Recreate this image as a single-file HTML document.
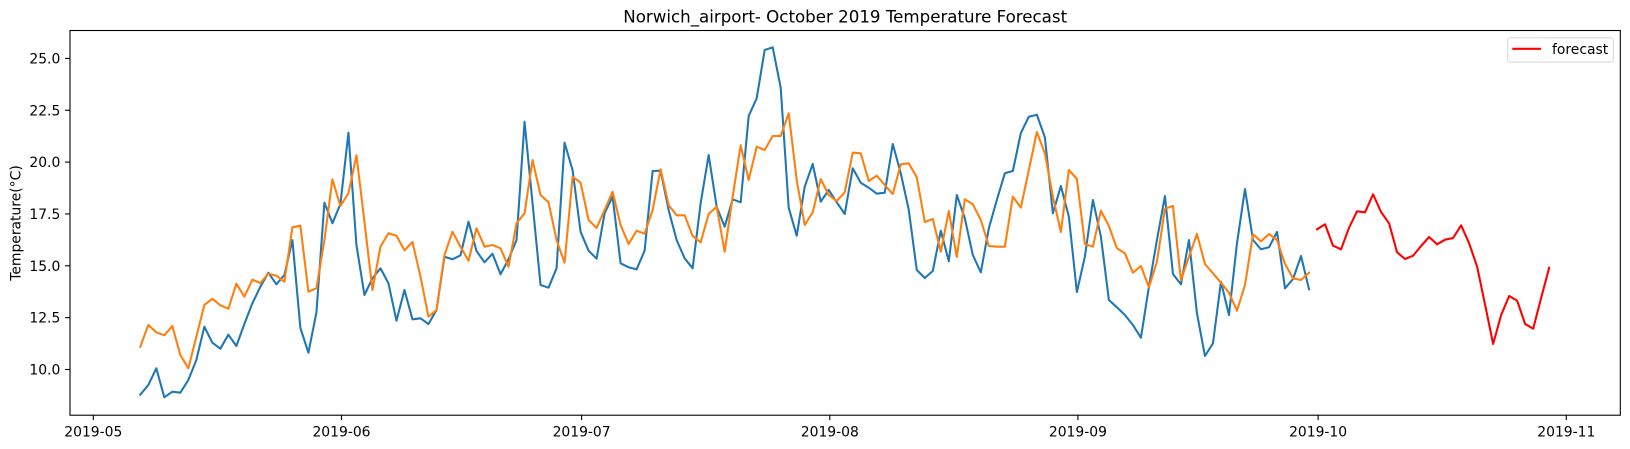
<!DOCTYPE html>
<html>
<head>
<meta charset="utf-8">
<style>
html,body{margin:0;padding:0;background:#fff;}
svg{display:block;}
text{font-family:"DejaVu Sans","Liberation Sans",sans-serif;fill:#000;}
</style>
</head>
<body>
<svg width="1630" height="449" viewBox="0 0 1630 449" xmlns="http://www.w3.org/2000/svg">
<defs>
<clipPath id="ax"><rect x="70" y="30.5" width="1550.3" height="384.7"/></clipPath>
</defs>
<rect x="0" y="0" width="1630" height="449" fill="#fff"/>

<!-- title -->
<text x="845.2" y="22.5" font-size="16.67" text-anchor="middle">Norwich_airport- October 2019 Temperature Forecast</text>

<!-- data -->
<g clip-path="url(#ax)">
<g transform="translate(140.3,0) scale(8.005,1)" fill="none" stroke-linejoin="round" stroke-linecap="square">
<polyline vector-effect="non-scaling-stroke" stroke="#1f77b4" stroke-width="2.08" points="0,394.7 1,385 2,368.3 3,397.3 4,391.7 5,392.7 6,380 7,360 8,326.7 9,342.7 10,348.7 11,334.7 12,346 13,324 14,303.3 15,286.7 16,272.7 17,284.3 18,275 19,240 20,328 21,352.7 22,312.7 23,202.7 24,223.3 25,204 26,132.7 27,245 28,295 29,278.3 30,268.3 31,283.3 32,320.7 33,290 34,319.3 35,318.3 36,324 37,310 38,256.7 39,259.3 40,255.3 41,221.7 42,251 43,262.3 44,253.7 45,274.3 46,259.3 47,240 48,121.7 49,203.3 50,285 51,287.7 52,268.3 53,142.7 54,170 55,231.7 56,250.7 57,258.7 58,213.3 59,196.7 60,263.3 61,267.3 62,269.3 63,250.7 64,171 65,170.7 66,210 67,240 68,258.3 69,268.3 70,203.3 71,155 72,206.7 73,226.7 74,199.3 75,202.3 76,116 77,98.3 78,50 79,47.3 80,87.7 81,207.7 82,235.7 83,186.7 84,164 85,201.7 86,190 87,202.3 88,214 89,168.3 90,182.7 91,187.7 92,193.7 93,192.7 94,144 95,173.3 96,210 97,270 98,278 99,271 100,230.7 101,261.3 102,195 103,218.3 104,255 105,272.3 106,228.3 107,200 108,173.3 109,171 110,133 111,116.7 112,114.7 113,137.3 114,213.3 115,186 116,216.7 117,292 118,256.7 119,200 120,236.7 121,300 122,307.3 123,315 124,325 125,337.7 126,286.7 127,240 128,196 129,274 130,284.3 131,240 132,313.3 133,356 134,343.3 135,281.7 136,315 137,243.3 138,189 139,240 140,249.3 141,247.3 142,232 143,288.3 144,279 145,256 146,289.3"/>
<polyline vector-effect="non-scaling-stroke" stroke="#ff7f0e" stroke-width="2.08" points="0,346.7 1,325 2,332.3 3,335.3 4,326 5,355 6,368.3 7,336.7 8,305 9,298.7 10,305.3 11,308.7 12,283.7 13,296.7 14,279.7 15,283 16,273.7 17,275.7 18,281.7 19,227.3 20,225.7 21,291.7 22,288.3 23,240 24,179.3 25,206 26,193.3 27,155.3 28,221.7 29,290 30,246.7 31,233.3 32,235.7 33,250.3 34,242 35,276.7 36,316.7 37,310 38,255 39,231.7 40,246.7 41,260.7 42,228.3 43,246.7 44,245 45,248.3 46,266.7 47,223.3 48,213.3 49,160 50,195 51,202.3 52,240 53,262.7 54,176.7 55,182.7 56,220 57,228 58,210 59,191.7 60,225 61,244 62,230.7 63,233.7 64,210 65,169.3 66,205 67,215.3 68,215.3 69,236 70,242.3 71,214 72,206.7 73,251.7 74,196.7 75,145.3 76,180 77,146.7 78,150 79,136 80,136 81,113.3 82,180 83,225 84,212.3 85,179 86,195 87,201 88,192.3 89,152.7 90,153.3 91,181 92,175.7 93,185 94,194 95,164.3 96,163.3 97,177.3 98,222 99,219 100,251.7 101,211 102,257 103,199.3 104,204.3 105,220 106,246 107,246.7 108,246.7 109,196.7 110,207.5 111,170 112,132 113,153.3 114,196.7 115,232 116,170 117,179 118,244 119,246.7 120,210.7 121,226 122,248.3 123,253.3 124,272.7 125,266 126,287.3 127,261.7 128,208.7 129,206 130,280 131,256.7 132,234 133,264 134,273.3 135,282.7 136,292.7 137,310.7 138,285 139,234.3 140,241.3 141,234 142,240 143,264 144,278.3 145,280 146,272.7"/>
<polyline vector-effect="non-scaling-stroke" stroke="#ff0000" stroke-width="2.08" points="147,229.3 148,224.3 149,245.7 150,249.3 151,227.7 152,211.3 153,212.3 154,194.3 155,212 156,223.3 157,252.3 158,259 159,255.7 160,246 161,237 162,244.3 163,239.7 164,238 165,225.3 166,243.3 167,266.7 168,305 169,344 170,315 171,296 172,300.7 173,324 174,328.7 175,297.7 176,267.7"/>
</g>
</g>

<!-- axes frame -->
<rect x="70" y="30.5" width="1550.3" height="384.7" fill="none" stroke="#000" stroke-width="1.1"/>

<!-- y ticks -->
<g stroke="#000" stroke-width="1.1">
<line x1="65.1" y1="369.5" x2="70" y2="369.5"/>
<line x1="65.1" y1="317.65" x2="70" y2="317.65"/>
<line x1="65.1" y1="265.8" x2="70" y2="265.8"/>
<line x1="65.1" y1="213.95" x2="70" y2="213.95"/>
<line x1="65.1" y1="162.1" x2="70" y2="162.1"/>
<line x1="65.1" y1="110.25" x2="70" y2="110.25"/>
<line x1="65.1" y1="58.4" x2="70" y2="58.4"/>
</g>
<g font-size="13.9" text-anchor="end">
<text x="60.3" y="374.5">10.0</text>
<text x="60.3" y="322.65">12.5</text>
<text x="60.3" y="270.8">15.0</text>
<text x="60.3" y="218.95">17.5</text>
<text x="60.3" y="167.1">20.0</text>
<text x="60.3" y="115.25">22.5</text>
<text x="60.3" y="63.4">25.0</text>
</g>

<!-- x ticks -->
<g stroke="#000" stroke-width="1.1">
<line x1="93.3" y1="415.2" x2="93.3" y2="420.1"/>
<line x1="341.5" y1="415.2" x2="341.5" y2="420.1"/>
<line x1="581.6" y1="415.2" x2="581.6" y2="420.1"/>
<line x1="829.8" y1="415.2" x2="829.8" y2="420.1"/>
<line x1="1077.9" y1="415.2" x2="1077.9" y2="420.1"/>
<line x1="1318.1" y1="415.2" x2="1318.1" y2="420.1"/>
<line x1="1566.3" y1="415.2" x2="1566.3" y2="420.1"/>
</g>
<g font-size="13.9" text-anchor="middle">
<text x="93.3" y="436.3">2019-05</text>
<text x="341.5" y="436.3">2019-06</text>
<text x="581.6" y="436.3">2019-07</text>
<text x="829.8" y="436.3">2019-08</text>
<text x="1077.9" y="436.3">2019-09</text>
<text x="1318.1" y="436.3">2019-10</text>
<text x="1566.3" y="436.3">2019-11</text>
</g>

<!-- y label -->
<text font-size="13.9" text-anchor="middle" transform="translate(20.3,223) rotate(-90)">Temperature(°C)</text>

<!-- legend -->
<rect x="1507.7" y="37.7" width="105.6" height="24.3" rx="2.5" fill="#fff" fill-opacity="0.8" stroke="#d6d6d6" stroke-width="1"/>
<line x1="1512.3" y1="48.8" x2="1541" y2="48.8" stroke="#ff0000" stroke-width="2.08"/>
<text x="1552" y="53.8" font-size="13.9">forecast</text>
</svg>
</body>
</html>
